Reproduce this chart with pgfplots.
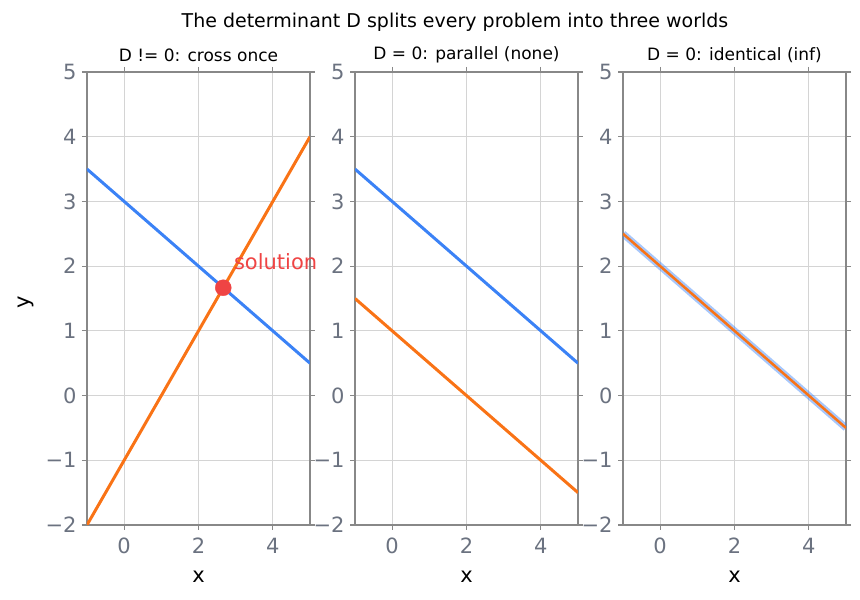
\documentclass[border=0pt]{standalone}
\usepackage{pgfplots}
\pgfplotsset{compat=1.18}
\usepackage{fontspec}
\setmainfont{DejaVu Sans}

\definecolor{lineblue}{HTML}{3B82F6}
\definecolor{lineorange}{HTML}{F97316}
\definecolor{dotred}{HTML}{EF4444}
\definecolor{spine}{HTML}{888888}
\definecolor{ticktext}{HTML}{6B7280}
\definecolor{gridgray}{HTML}{D4D4D4}

\pgfplotsset{
  panel/.style={
    scale only axis,
    width=223pt, height=453pt,
    anchor=south west,
    xmin=-1, xmax=5, ymin=-2, ymax=5,
    xtick={0,2,4}, xticklabels={0,2,4},
    ytick={-2,-1,0,1,2,3,4,5},
    yticklabels={−2,−1,0,1,2,3,4,5},
    grid=major,
    major grid style={gridgray, line width=0.8pt},
    axis line style={spine, line width=1.2pt},
    tick style={spine, line width=1.2pt},
    tick align=outside,
    major tick length=5pt,
    tick label style={font=\fontsize{21}{23}\selectfont, text=ticktext},
    xticklabel style={anchor=center, yshift=-16pt},
    yticklabel style={anchor=east, xshift=-2pt},
    title style={font=\fontsize{17}{19}\selectfont, at={(axis description cs:0.5,1)}, anchor=center, yshift=11pt},
    label style={font=\fontsize{21}{23}\selectfont},
    xlabel={x},
    xlabel style={at={(axis description cs:0.5,0)}, anchor=center, yshift=-52pt},
    clip mode=individual,
  },
}

\begin{document}
\begin{tikzpicture}[x=1pt,y=1pt]
\useasboundingbox (0,0) rectangle (860,600);

\node[font=\fontsize{19}{21}\selectfont] at (455,578) {The determinant D splits every problem into three worlds};

% Panel 1: two lines meeting in a single point
\begin{axis}[panel, at={(87pt,75pt)}, title={D != 0: cross once}, ylabel={y},
  ylabel style={at={(axis description cs:0,0.5)}, anchor=center, yshift=61pt, xshift=-4pt}]
\addplot[lineblue, line width=3pt] coordinates {(-1,3.5) (5,0.5)};
\addplot[lineorange, line width=3pt] coordinates {(-1,-2) (5,4)};
\addplot[only marks, mark=*, mark size=8pt, dotred, mark options={draw=dotred, fill=dotred}] coordinates {(2.6667,1.6667)};
\node[anchor=west, text=dotred, font=\fontsize{21}{23}\selectfont, inner sep=0pt] at (axis cs:2.95,2.07) {solution};
\end{axis}

% Panel 2: parallel lines, no solution
\begin{axis}[panel, at={(355pt,75pt)}, title={D = 0: parallel (none)}]
\addplot[lineblue, line width=3pt] coordinates {(-1,3.5) (5,0.5)};
\addplot[lineorange, line width=3pt] coordinates {(-1,1.5) (5,-1.5)};
\end{axis}

% Panel 3: the same line twice, infinitely many solutions
\begin{axis}[panel, at={(623pt,75pt)}, title={D = 0: identical (inf)}]
\addplot[lineblue, opacity=0.45, line width=7pt] coordinates {(-1,2.5) (5,-0.5)};
\addplot[lineorange, line width=2.5pt] coordinates {(-1,2.5) (5,-0.5)};
\end{axis}
\end{tikzpicture}
\end{document}
